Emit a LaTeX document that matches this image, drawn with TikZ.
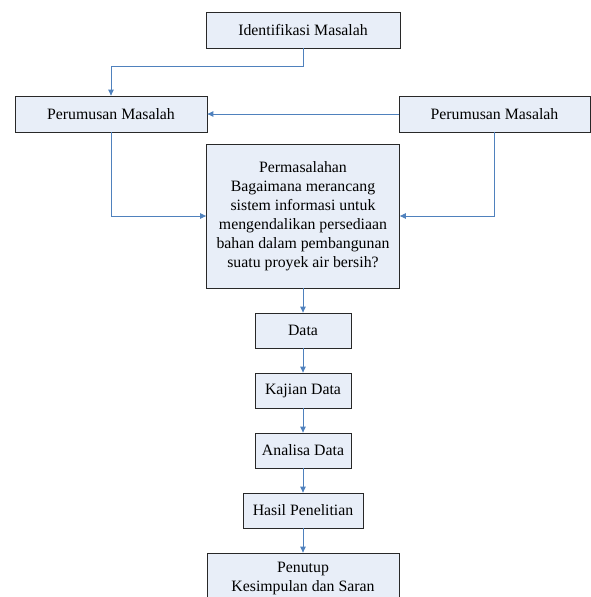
\documentclass[tikz,border=0pt]{standalone}
\usepackage{fontspec}
\setmainfont{Liberation Serif}
\usetikzlibrary{arrows.meta}

\definecolor{boxfill}{RGB}{232,238,248}
\definecolor{boxline}{RGB}{40,40,40}
\definecolor{linkblue}{RGB}{79,129,189}

\def\xmid{303}
\def\fsize{15.8}

\tikzset{
 box/.style={draw=boxline, line width=0.8pt, fill=boxfill, align=center,
  inner sep=0pt, minimum height=36pt,
  font=\fontsize{\fsize}{19}\selectfont},
 link/.style={draw=linkblue, line width=0.9pt,
  -{Triangle[length=6pt,width=5.5pt]}}
}

\begin{document}
\begin{tikzpicture}[x=1pt,y=-1pt]
 \useasboundingbox (0,0) rectangle (590,597);
 % top row
 \node[box, minimum width=194pt] (ident) at (\xmid,30) {Identifikasi Masalah};
 \node[box, minimum width=192pt] (rumusA) at (111,114) {Perumusan Masalah};
 \node[box, minimum width=191pt] (rumusB) at (494.5,114) {Perumusan Masalah};
 % main question
 \node[box, minimum width=193pt, minimum height=144pt] (masalah) at (\xmid,216)
  {Permasalahan\\Bagaimana merancang\\sistem informasi untuk\\mengendalikan persediaan\\bahan dalam pembangunan\\suatu proyek air bersih?};
 % chain of steps
 \node[box, minimum width=96pt, minimum height=35pt] (data) at (\xmid,330.5) {Data};
 \node[box, minimum width=96pt, minimum height=35pt] (kajian) at (\xmid,390.5) {Kajian Data};
 \node[box, minimum width=96pt, minimum height=35pt] (analisa) at (\xmid,450.5) {Analisa Data};
 \node[box, minimum width=120pt, minimum height=35pt] (hasil) at (\xmid,510.5) {Hasil Penelitian};
 \node[box, minimum width=192pt, minimum height=52pt] (penutup) at (\xmid,579) {Penutup\\Kesimpulan dan Saran};
 % connectors
 \coordinate (turn) at (\xmid,66);
 \draw[link] (ident.south) -- (turn) -| (rumusA.north);
 \draw[link] (rumusB.west) -- (rumusA.east);
 \draw[link] (rumusA.south) |- (masalah.west);
 \draw[link] (rumusB.south) |- (masalah.east);
 \foreach \a/\b in {masalah/data,data/kajian,kajian/analisa,analisa/hasil,hasil/penutup}
  \draw[link] (\a.south) -- (\b.north);
\end{tikzpicture}
\end{document}
